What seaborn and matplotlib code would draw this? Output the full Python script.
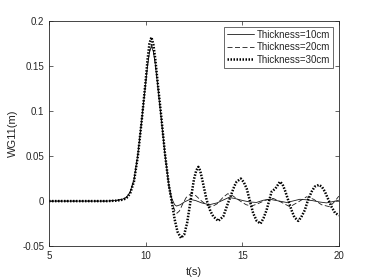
import matplotlib
matplotlib.use("Agg")
import matplotlib.pyplot as plt
import seaborn as sns
import pandas as pd

# ---- data ----
t10 = [5.0, 8.0, 8.5, 8.8, 9.0, 9.2, 9.4, 9.6, 9.8, 10.0, 10.1, 10.2, 10.3, 10.4, 10.5,
       10.6, 10.8, 11.0, 11.2, 11.35, 11.5, 11.6, 11.8, 12.0, 12.3, 12.6, 12.9, 13.3,
       13.7, 14.0, 14.3, 14.6, 15.05, 15.4, 15.74, 16.1, 16.43, 16.85, 17.29, 17.6,
       17.98, 18.3, 18.67, 19.0, 19.36, 19.7, 20.0]
y10 = [0.0, 0.0, 0.0008, 0.002, 0.004, 0.010, 0.024, 0.052, 0.090, 0.130, 0.150, 0.165,
       0.172, 0.166, 0.152, 0.133, 0.093, 0.052, 0.019, 0.003, -0.004, -0.0055, -0.004,
       -0.001, 0.002, 0.0005, -0.002, -0.004, -0.002, 0.001, 0.004, 0.003, 0.0005,
       -0.001, -0.0015, 0.001, 0.002, 0.0003, -0.0015, 0.0, 0.002, 0.0015, 0.0004,
       -0.001, -0.002, -0.0005, 0.001]

t20 = [5.0, 8.0, 8.5, 8.8, 9.0, 9.2, 9.4, 9.6, 9.8, 10.0, 10.1, 10.2, 10.3, 10.4, 10.5,
       10.6, 10.8, 11.0, 11.2, 11.35, 11.5, 11.62, 11.75, 11.9, 12.1, 12.38, 12.6, 12.9,
       13.2, 13.45, 13.7, 14.0, 14.25, 14.5, 14.9, 15.2, 15.48, 15.8, 16.2, 16.6, 17.0,
       17.47, 17.9, 18.33, 18.7, 19.1, 19.53, 19.8, 20.0]
y20 = [0.0, 0.0, 0.0008, 0.002, 0.004, 0.010, 0.024, 0.052, 0.090, 0.131, 0.151, 0.166,
       0.174, 0.167, 0.153, 0.134, 0.094, 0.052, 0.016, -0.001, -0.010, -0.0135, -0.011,
       -0.004, 0.004, 0.0088, 0.006, 0.0, -0.005, -0.006, -0.003, 0.004, 0.0082, 0.006,
       0.0, -0.004, -0.0055, -0.003, 0.001, 0.003, -0.001, -0.0063, -0.001, 0.0048,
       0.002, -0.004, -0.0063, 0.0, 0.0055]

t30 = [5.0, 8.0, 8.5, 8.8, 9.0, 9.2, 9.4, 9.6, 9.8, 10.0, 10.1, 10.2, 10.3, 10.4, 10.5,
       10.6, 10.8, 11.0, 11.2, 11.35, 11.5, 11.65, 11.83, 12.0, 12.15, 12.33, 12.5, 12.62,
       12.73, 12.82, 12.9, 13.0, 13.16, 13.35, 13.5, 13.76, 14.02, 14.2, 14.45, 14.6,
       14.71, 14.93, 15.08, 15.23, 15.4, 15.57, 15.75, 15.95, 16.1, 16.26, 16.52, 16.72,
       16.95, 17.08, 17.21, 17.38, 17.55, 17.7, 17.9, 18.05, 18.24, 18.4, 18.59, 18.75,
       18.97, 19.12, 19.28, 19.45, 19.62, 19.8, 19.97, 20.0]
y30 = [0.0, 0.0, 0.0005, 0.0015, 0.003, 0.0085, 0.022, 0.050, 0.090, 0.133, 0.157, 0.175,
       0.182, 0.174, 0.158, 0.137, 0.096, 0.053, 0.018, 0.0, -0.020, -0.034, -0.041,
       -0.037, -0.024, 0.001, 0.024, 0.034, 0.038, 0.034, 0.027, 0.017, 0.001, -0.011,
       -0.017, -0.022, -0.017, -0.006, 0.0085, 0.017, 0.0215, 0.025, 0.021, 0.014,
       0.0, -0.0137, -0.022, -0.025, -0.019, -0.010, 0.0104, 0.014, 0.0215, 0.019,
       0.012, 0.001, -0.010, -0.018, -0.022, -0.018, -0.010, 0.001, 0.0104, 0.016,
       0.018, 0.016, 0.0104, 0.002, -0.0063, -0.013, -0.0155, -0.016]

labels = ["Thickness=10cm", "Thickness=20cm", "Thickness=30cm"]
x_ticks = [5, 10, 15, 20]
y_ticks = [-0.05, 0, 0.05, 0.1, 0.15, 0.2]
y_tick_labels = ["-0.05", "0", "0.05", "0.1", "0.15", "0.2"]

sns.set_style("ticks")
plt.rcParams["font.family"] = ["Liberation Sans", "DejaVu Sans"]

fig = plt.figure(figsize=(3.74, 2.80), dpi=100)
ax = fig.add_axes([0.131, 0.121, 0.775, 0.804])

edge = "#262626"
sns.lineplot(x=t10, y=y10, ax=ax, color="#1a1a1a", linewidth=0.6, linestyle="-",
             label=labels[0], sort=False)
sns.lineplot(x=t20, y=y20, ax=ax, color="#1a1a1a", linewidth=0.6, linestyle=(0, (6, 3)),
             label=labels[1], sort=False)
sns.lineplot(x=t30, y=y30, ax=ax, color="black", linewidth=1.8, linestyle=(0, (0.6, 0.6)),
             label=labels[2], sort=False)

ax.set_xlim(5, 20)
ax.set_ylim(-0.05, 0.2)
ax.set_xticks(x_ticks)
ax.set_xticklabels([str(v) for v in x_ticks])
ax.set_yticks(y_ticks)
ax.set_yticklabels(y_tick_labels)
ax.tick_params(direction="in", top=True, right=True, length=3, width=0.5,
               labelsize=7, colors=edge, pad=3.5)
for s in ax.spines.values():
    s.set_visible(True)
    s.set_linewidth(0.6)
    s.set_color(edge)

ax.set_xlabel("t(s)", fontsize=8, color=edge, labelpad=4)
ax.set_ylabel("WG11(m)", fontsize=8, color=edge, labelpad=3)

leg = ax.legend(loc="upper right", fontsize=7, frameon=True, fancybox=False,
                handlelength=2.8, handletextpad=0.3, borderpad=0.3, labelspacing=0.25,
                borderaxespad=0.6)
leg.get_frame().set_edgecolor(edge)
leg.get_frame().set_linewidth(0.6)

fig.savefig("out.png", dpi=100)
